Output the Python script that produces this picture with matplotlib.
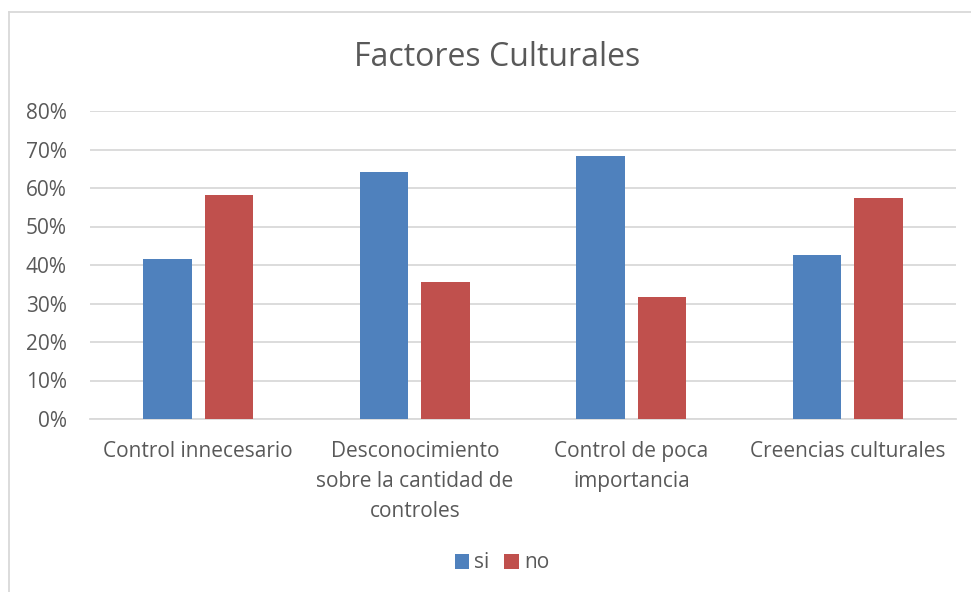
import matplotlib
matplotlib.use("Agg")
import matplotlib.pyplot as plt
import numpy as np
from matplotlib.lines import Line2D

categories = ["Control innecesario",
              "Desconocimiento\nsobre la cantidad de\ncontroles",
              "Control de poca\nimportancia",
              "Creencias culturales"]
si_values = [41.6, 64.2, 68.3, 42.5]
no_values = [58.1, 35.7, 31.7, 57.5]
series_names = ["si", "no"]
y_ticks = [0, 10, 20, 30, 40, 50, 60, 70, 80]

plt.rcParams['font.family'] = ['Open Sans', 'DejaVu Sans']
txt = "#595959"

fig = plt.figure(figsize=(9.71, 5.92), dpi=100)
ax = fig.add_axes([90/971, 1-419/592, 866/971, 308/592])

x = np.arange(len(categories))
w = 0.225
off = 0.1417
ax.bar(x - off, si_values, w, color="#4F81BD", label=series_names[0], zorder=3)
ax.bar(x + off, no_values, w, color="#C0504D", label=series_names[1], zorder=3)

ax.set_xlim(-0.5, len(categories) - 0.5)
ax.set_ylim(0, 80)
ax.set_yticks(y_ticks)
ax.set_yticklabels([f"{t}%" for t in y_ticks])
ax.yaxis.grid(True, color="#D9D9D9", linewidth=1.3, zorder=0)
ax.set_axisbelow(True)
for s in ["top", "right", "left"]:
    ax.spines[s].set_visible(False)
ax.spines["bottom"].set_color("#D9D9D9")
ax.spines["bottom"].set_linewidth(1.3)
ax.tick_params(axis="both", length=0, colors=txt, labelsize=15)
ax.tick_params(axis="y", pad=16.6)
ax.tick_params(axis="x", pad=16)
ax.set_xticks(x)
ax.set_xticklabels(categories, linespacing=1.57)
for lab in ax.get_yticklabels():
    lab.set_horizontalalignment("right")

fig.text(497/971, 1-58/592, "Factores Culturales", ha="center", va="center",
         fontsize=23, color=txt)

leg = fig.legend(loc="center", bbox_to_anchor=(502/971, 1-563/592), ncol=2,
                 frameon=False, fontsize=15, handlelength=0.7, handleheight=0.7,
                 handletextpad=0.25, columnspacing=0.7)
for t in leg.get_texts():
    t.set_color(txt)

# chart border (left and top visible)
fig.add_artist(Line2D([8.5/971, 8.5/971], [0, 1-12/592], color="#D9D9D9", linewidth=1.3))
fig.add_artist(Line2D([8.5/971, 1], [1-12/592, 1-12/592], color="#D9D9D9", linewidth=1.3))

fig.savefig("out.png", dpi=100)
